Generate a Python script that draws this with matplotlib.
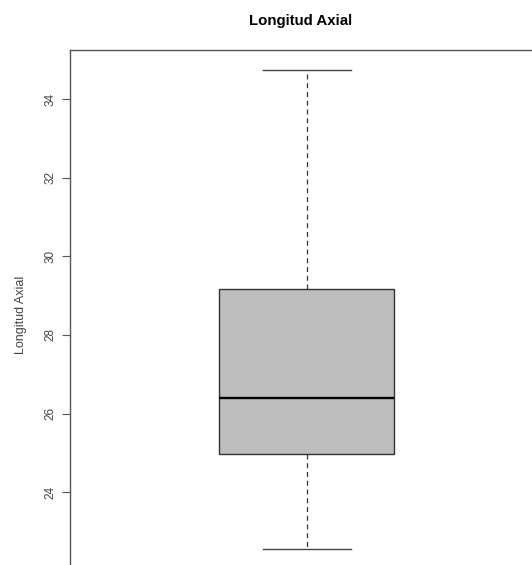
import matplotlib
matplotlib.use("Agg")
import matplotlib.pyplot as plt

plt.rcParams['font.family'] = ['Liberation Sans', 'DejaVu Sans']

# five-number summary
label = "Longitud Axial"
whislo = 22.56
q1 = 24.98
med = 26.40
q3 = 29.17
whishi = 34.75
yticks = [24, 26, 28, 30, 32, 34]

W, H = 532, 565
fig = plt.figure(figsize=(W / 100, H / 100), dpi=100)
# plot region runs past the right and bottom edges, as in the original
ax = fig.add_axes([70 / W, -15 / H, 475 / W, 530 / H])

stats = [dict(med=med, q1=q1, q3=q3, whislo=whislo, whishi=whishi, fliers=[])]
ax.bxp(stats, positions=[1], widths=0.8, patch_artist=True, showfliers=False,
       boxprops=dict(facecolor='#bebebe', edgecolor='#333333', linewidth=1.0),
       medianprops=dict(color='black', linewidth=1.7),
       whiskerprops=dict(color='#333333', linewidth=0.9, linestyle=(0, (4, 3))),
       capprops=dict(color='#444444', linewidth=1.0),
       capwidths=0.4)

ax.set_xlim(-0.0834, 2.088)
ax.set_ylim(21.77, 35.246)
ax.set_xticks([])
ax.set_yticks(yticks)
ax.set_yticklabels([str(t) for t in yticks], rotation=90, va='center',
                   fontsize=8.5, color='#444444')
ax.tick_params(axis='y', length=6, width=0.8, color='#555555', pad=4)
for s in ax.spines.values():
    s.set_color('#555555')
    s.set_linewidth(1.0)

ax.set_ylabel(label, fontsize=9, color='#444444', labelpad=12)
fig.text(301 / W, 1 - 21 / H, label, ha='center', va='center',
         fontsize=10.8, fontweight='bold')

fig.savefig("out.png", dpi=100)
